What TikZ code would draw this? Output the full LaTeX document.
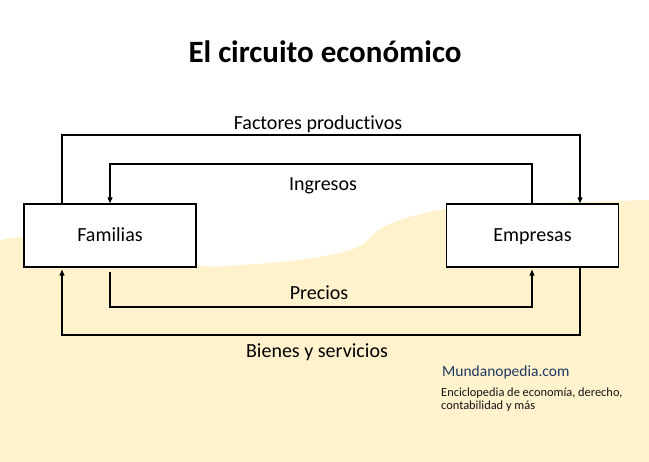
\documentclass[tikz,border=0pt]{standalone}
\usepackage{fontspec}
\setmainfont{Carlito}[Ligatures=NoCommon]
\usetikzlibrary{arrows.meta}
\definecolor{beige}{HTML}{FFF2CC}
\definecolor{mblue}{HTML}{1F3864}
\begin{document}
\begin{tikzpicture}[x=1pt,y=-1pt,
  box/.style={draw=black,line width=1.4pt,fill=white,minimum width=172pt,minimum height=63pt,inner sep=0pt,text height=15pt,text depth=2pt,font=\fontsize{20}{24}\selectfont},
  lbl/.style={anchor=base,inner sep=0pt,font=\fontsize{20}{24}\selectfont},
  flow/.style={draw=black,line width=1.2pt,-{Triangle[length=6pt,width=5pt]}},
  sub/.style={anchor=base west,inner sep=0pt,text=black!92,font=\fontsize{12.4}{14}\selectfont}]
\useasboundingbox (0,0) rectangle (649,462);
\fill[white] (0,0) rectangle (649,462);
\fill[beige] (0,241) .. controls (30,227) and (120,255) .. (210,267)
  .. controls (300,262) and (355,255) .. (368,240)
  .. controls (380,222) and (420,212) .. (470,205)
  -- (649,200) -- (649,462) -- (0,462) -- cycle;
\node[anchor=base,inner sep=0pt,font=\fontsize{31}{36}\selectfont\bfseries] (title) at (325,63) {El circuito económico};
\node[box] (fam) at (110,235.5) {Familias};
\node[box] (emp) at (532.5,235.5) {Empresas};
\coordinate (o1) at (62,135);
\coordinate (o2) at (580,135);
\coordinate (i1) at (532,164);
\coordinate (i2) at (110,164);
\coordinate (p1) at (110,307);
\coordinate (p2) at (532,307);
\coordinate (b1) at (580,335);
\coordinate (b2) at (62,335);
\draw[flow] (fam.north -| o1) -- (o1) -- (o2) -- (emp.north -| o2);
\draw[flow] (emp.north -| i1) -- (i1) -- (i2) -- (fam.north -| i2);
\draw[flow,shorten <=4pt,shorten >=2pt] (fam.south -| p1) -- (p1) -- (p2) -- (emp.south -| p2);
\draw[flow,shorten >=2pt] (emp.south -| b1) -- (b1) -- (b2) -- (fam.south -| b2);
\node[lbl] (fp) at (318,130) {Factores productivos};
\node[lbl] (ing) at (323,191) {Ingresos};
\node[lbl] (pre) at (319,299.5) {Precios};
\node[lbl] (bys) at (317,357.5) {Bienes y servicios};
\node[anchor=base west,inner sep=0pt,text=mblue,font=\fontsize{15.5}{18}\selectfont] (mp) at (442,377) {Mundanopedia.com};
\node[sub] (s1) at (441,397) {Enciclopedia de economía, derecho,};
\node[sub] (s2) at (441,410) {contabilidad y más};
\end{tikzpicture}
\end{document}
